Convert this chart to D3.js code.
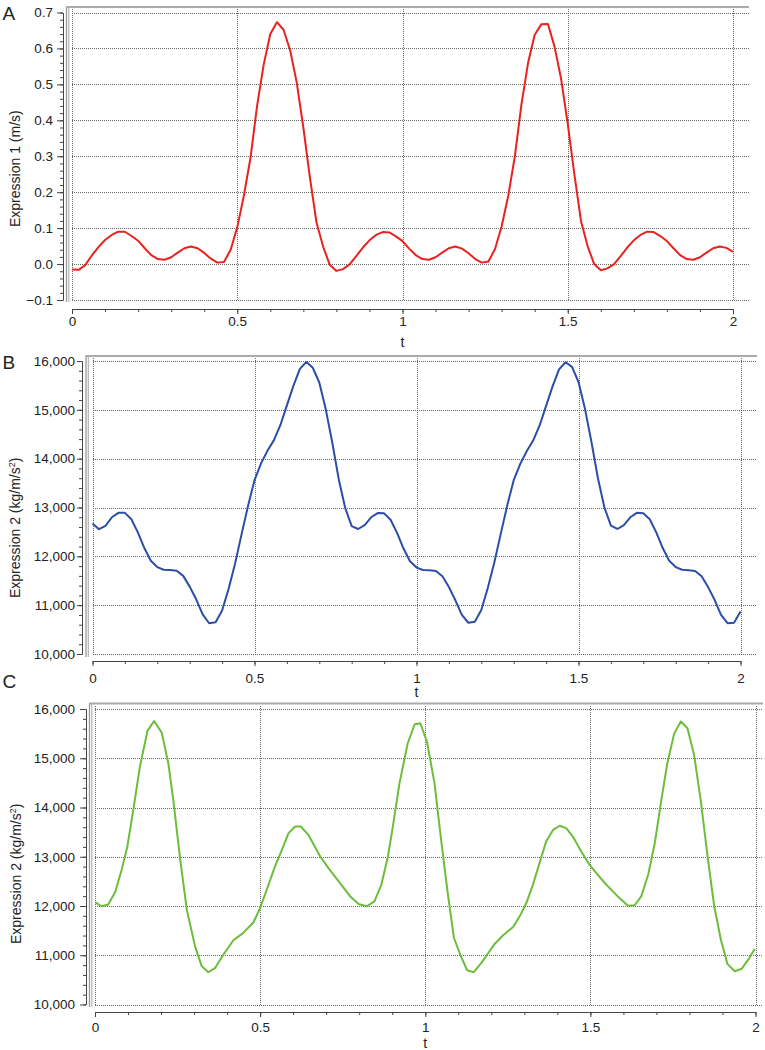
<!DOCTYPE html>
<html><head><meta charset="utf-8">
<script src="https://cdn.jsdelivr.net/npm/d3@7"></script>
<style>
body{margin:0;background:#fff}
svg{display:block}
text{font-family:"Liberation Sans",Arial,Helvetica,sans-serif;fill:#222}
</style>
</head><body>
<svg id="chart" width="765" height="1050"></svg>
<script>
// ---------- DATA ----------
const sampleTimes = [0,0.02,0.04,0.06,0.08,0.10,0.12,0.14,0.16,0.18,0.20,0.22,0.24,0.26,0.28,0.30,0.32,0.34,0.36,0.38,
  0.40,0.42,0.44,0.46,0.48,0.50,0.52,0.54,0.56,0.58,0.60,0.62,0.64,0.66,0.68,0.70,0.72,0.74,0.76,0.78,
  0.80,0.82,0.84,0.86,0.88,0.90,0.92,0.94,0.96,0.98,1.00,1.02,1.04,1.06,1.08,1.10,1.12,1.14,1.16,1.18,
  1.20,1.22,1.24,1.26,1.28,1.30,1.32,1.34,1.36,1.38,1.40,1.42,1.44,1.46,1.48,1.50,1.52,1.54,1.56,1.58,
  1.60,1.62,1.64,1.66,1.68,1.70,1.72,1.74,1.76,1.78,1.80,1.82,1.84,1.86,1.88,1.90,1.92,1.94,1.96,1.98,2.00];

const expression1 = [-0.015,-0.016,-0.003,0.024,0.047,0.067,0.081,0.090,0.090,0.078,0.065,0.044,0.025,0.014,0.012,0.019,0.032,0.044,0.049,0.044,
  0.031,0.015,0.004,0.006,0.040,0.102,0.190,0.295,0.440,0.555,0.640,0.673,0.652,0.595,0.505,0.380,0.240,0.115,0.048,-0.002,
  -0.019,-0.014,-0.001,0.022,0.046,0.066,0.081,0.089,0.088,0.077,0.064,0.043,0.025,0.014,0.012,0.019,0.032,0.044,0.049,0.043,
  0.030,0.014,0.004,0.007,0.042,0.105,0.190,0.300,0.445,0.560,0.638,0.667,0.668,0.605,0.515,0.390,0.250,0.120,0.050,0.000,
  -0.017,-0.012,0.000,0.022,0.046,0.066,0.081,0.090,0.089,0.078,0.064,0.044,0.025,0.014,0.012,0.019,0.032,0.044,0.049,0.045,0.034];

const expression2B = [12670,12555,12625,12800,12890,12890,12760,12490,12170,11910,11780,11725,11720,11705,11600,11380,11120,10810,10630,10650,
  10890,11330,11850,12450,13030,13560,13900,14160,14380,14690,15090,15490,15840,15980,15860,15560,15010,14330,13580,12990,
  12620,12560,12640,12800,12885,12880,12750,12480,12160,11900,11770,11720,11715,11700,11590,11370,11100,10800,10640,10660,
  10900,11350,11870,12460,13040,13560,13890,14150,14370,14680,15080,15480,15830,15975,15880,15570,15020,14340,13600,13000,
  12630,12560,12640,12800,12890,12880,12760,12490,12170,11910,11780,11725,11715,11700,11590,11370,11110,10800,10630,10640,10870];

const timesC = [0.000,0.020,0.040,0.061,0.081,0.098,0.116,0.136,0.159,0.179,0.202,0.222,0.237,0.258,0.278,0.303,0.323,0.343,0.364,0.389,
  0.419,0.449,0.480,0.500,0.520,0.545,0.566,0.586,0.606,0.623,0.646,0.682,0.707,0.742,0.773,0.798,0.823,0.846,0.867,0.887,
  0.902,0.922,0.947,0.968,0.985,1.005,1.028,1.048,1.068,1.087,1.107,1.127,1.147,1.170,1.190,1.210,1.235,1.266,1.286,1.306,
  1.326,1.346,1.366,1.387,1.407,1.427,1.447,1.472,1.497,1.522,1.553,1.583,1.614,1.634,1.654,1.675,1.695,1.715,1.733,1.754,
  1.774,1.794,1.814,1.834,1.855,1.875,1.895,1.915,1.937,1.958,1.978,1.998];

const expression2C = [12080,11995,12030,12280,12740,13210,13950,14830,15560,15755,15520,14900,14155,12940,11925,11180,10780,10655,10745,11015,
  11305,11455,11670,11960,12330,12805,13140,13480,13615,13615,13445,13005,12770,12465,12195,12040,11995,12095,12430,13005,
  13615,14495,15305,15690,15710,15340,14495,13345,12265,11350,10995,10695,10655,10845,11035,11230,11400,11575,11790,12060,
  12430,12870,13310,13545,13630,13580,13410,13110,12840,12635,12400,12195,12005,12015,12195,12635,13275,14155,14900,15505,
  15745,15610,15070,14155,13005,11995,11320,10825,10675,10725,10910,11130];

const xTickValues = [0, 0.5, 1, 1.5, 2];
const yTickValuesA = [-0.1, 0.0, 0.1, 0.2, 0.3, 0.4, 0.5, 0.6, 0.7];
const yTickValuesBC = [10000, 11000, 12000, 13000, 14000, 15000, 16000];
const panelLetters = ["A", "B", "C"];
const yTitles = [
  {main: "Expression 1 (m/s)", sup: null, tail: null},
  {main: "Expression 2 (kg/m/s", sup: "2", tail: ")"},
  {main: "Expression 2 (kg/m/s", sup: "2", tail: ")"}
];
const xTitle = "t";
const lineColors = ["#e8231f", "#2c4ea6", "#6cbd3c"];

// ---------- LAYOUT ----------
const panels = [
  {t: sampleTimes, v: expression1, yDomain: [-0.1, 0.7], yTicks: yTickValuesA, yMinorStep: 0.02, yFmt: d3.format(".1f"),
   left: 72, right: 733, top: 12.5, bottom: 300, axisX: 63, tickLen: 6, tickPad: 4,
   frameX: 66.5, frameTop: 7, frameRight: 749, frameBottom: 302,
   xAxisY: 309, xLabelY: 326, tY: 347, letterY: 20, titleStartY: 227, titleX: 20},
  {t: sampleTimes, v: expression2B, yDomain: [10000, 16000], yTicks: yTickValuesBC, yMinorStep: 200, yFmt: d3.format(","),
   left: 92.5, right: 740.5, top: 361, bottom: 654, axisX: 82, tickLen: 5, tickPad: 2,
   frameX: 86, frameTop: 356, frameRight: 757, frameBottom: 657,
   xAxisY: 661, xLabelY: 683, tY: 697, letterY: 688, titleStartY: 598, titleX: 20, letterYOverride: 369},
  {t: timesC, v: expression2C, yDomain: [10000, 16000], yTicks: yTickValuesBC, yMinorStep: 200, yFmt: d3.format(","),
   left: 95, right: 755.5, top: 709, bottom: 1004.5, axisX: 86, tickLen: 6, tickPad: 5,
   frameX: 89.5, frameTop: 703.5, frameRight: 763, frameBottom: 1007,
   xAxisY: 1012, xLabelY: 1032, tY: 1048, letterY: 688, titleStartY: 944, titleX: 20.5}
];
panels[1].letterY = 369;

const svg = d3.select("#chart");
const axisColor = "#444";
const gridColor = "#666";

panels.forEach((p, i) => {
  const g = svg.append("g");
  const x = d3.scaleLinear().domain([0, 2]).range([p.left, p.right]);
  const y = d3.scaleLinear().domain(p.yDomain).range([p.bottom, p.top]);
  const px = v => Math.round(v) + 0.5;

  // frame (double gray vertical + top line)
  g.append("line").attr("x1", p.frameX).attr("x2", p.frameX).attr("y1", p.frameTop).attr("y2", p.frameBottom)
    .attr("stroke", "#9a9a9a").attr("stroke-width", 1.3);
  g.append("line").attr("x1", p.frameX + 2.3).attr("x2", p.frameX + 2.3).attr("y1", p.frameTop).attr("y2", p.frameBottom)
    .attr("stroke", "#b4b4b4").attr("stroke-width", 1.2);
  g.append("line").attr("x1", p.frameX - 0.5).attr("x2", p.frameRight).attr("y1", p.frameTop).attr("y2", p.frameTop)
    .attr("stroke", "#aaaaaa").attr("stroke-width", 2);

  // grid (pixel-aligned dotted lines)
  g.append("g").selectAll("line").data(p.yTicks).join("line")
    .attr("x1", Math.round(x(0))).attr("x2", Math.round(p.frameRight))
    .attr("y1", d => px(y(d))).attr("y2", d => px(y(d)))
    .attr("stroke", gridColor).attr("stroke-width", 1).attr("stroke-dasharray", "1,1");
  g.append("g").selectAll("line").data(xTickValues).join("line")
    .attr("x1", d => px(x(d))).attr("x2", d => px(x(d)))
    .attr("y1", Math.round(p.frameTop + 2)).attr("y2", Math.round(p.bottom + 1))
    .attr("stroke", gridColor).attr("stroke-width", 1).attr("stroke-dasharray", "1,1");

  // y axis (major + minor)
  const yMinor = d3.range(p.yDomain[0], p.yDomain[1] + p.yMinorStep / 2, p.yMinorStep);
  const yMinorAxis = d3.axisLeft(y).tickValues(yMinor).tickSize(3).tickSizeOuter(0).tickFormat("");
  const gyMinor = g.append("g").attr("transform", `translate(${p.axisX},0)`).call(yMinorAxis);
  const yAxis = d3.axisLeft(y).tickValues(p.yTicks).tickSize(p.tickLen).tickSizeOuter(0).tickPadding(p.tickPad).tickFormat(p.yFmt);
  const gy = g.append("g").attr("transform", `translate(${p.axisX},0)`).call(yAxis);
  [gy, gyMinor].forEach(a => a.selectAll("path,line").attr("stroke", axisColor));
  gy.selectAll("text").attr("font-size", 13.5).attr("fill", "#222")
    .style("font-family", '"Liberation Sans",Arial,sans-serif');

  // x axis (major + minor)
  const xMinor = d3.range(0, 2.0001, 0.1);
  const xMinorAxis = d3.axisBottom(x).tickValues(xMinor).tickSize(3).tickSizeOuter(0).tickFormat("");
  const gxMinor = g.append("g").attr("transform", `translate(0,${p.xAxisY})`).call(xMinorAxis);
  const xAxis = d3.axisBottom(x).tickValues(xTickValues).tickSize(5).tickSizeOuter(0).tickFormat(d3.format("~g"));
  const gx = g.append("g").attr("transform", `translate(0,${p.xAxisY})`).call(xAxis);
  [gx, gxMinor].forEach(a => a.selectAll("path,line").attr("stroke", axisColor));
  gx.selectAll("text").attr("y", p.xLabelY - p.xAxisY).attr("dy", 0).attr("font-size", 13.5).attr("fill", "#222")
    .style("font-family", '"Liberation Sans",Arial,sans-serif');

  // x title
  g.append("text").attr("x", (p.left + p.right) / 2).attr("y", p.tY).attr("text-anchor", "middle")
    .attr("font-size", 14).text(xTitle);

  // y title
  const tt = yTitles[i];
  const yt = g.append("text").attr("transform", `translate(${p.titleX},${p.titleStartY}) rotate(-90)`)
    .attr("text-anchor", "start").attr("font-size", 14);
  yt.append("tspan").text(tt.main);
  if (tt.sup) {
    yt.append("tspan").attr("font-size", 9).attr("dy", -5).text(tt.sup);
    yt.append("tspan").attr("dy", 5).text(tt.tail);
  }

  // panel letter
  g.append("text").attr("x", 2.5).attr("y", p.letterY).attr("font-size", 19).text(panelLetters[i]);

  // series line
  const pts = p.t.map((t, k) => [t, p.v[k]]);
  g.append("path").datum(pts)
    .attr("fill", "none").attr("stroke", lineColors[i]).attr("stroke-width", 2)
    .attr("stroke-linejoin", "round")
    .attr("d", d3.line().x(d => x(d[0])).y(d => y(d[1])));
});
</script>
</body></html>
